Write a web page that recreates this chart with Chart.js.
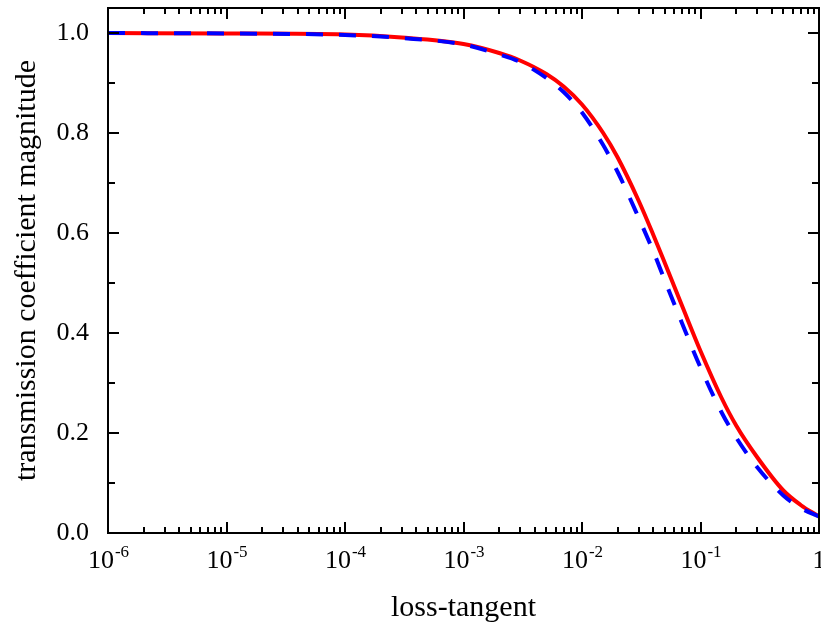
<!DOCTYPE html>
<html>
<head>
<meta charset="utf-8">
<script src="https://cdn.jsdelivr.net/npm/chart.js@4.4.1/dist/chart.umd.min.js"></script>
<style>
  html, body { margin: 0; padding: 0; background: #fff; }
  #wrap { width: 821px; height: 630px; }
</style>
</head>
<body>
<div id="wrap"><canvas id="transChart" width="821" height="630"></canvas></div>
<script>
// loss-tangent sample points (x axis, log scale)
const lossTangent = [1e-6, 1e-5, 1e-4, 3e-4, 1e-3, 2e-3, 3e-3, 5e-3, 7e-3, 1e-2, 1.5e-2, 2e-2, 3e-2, 4e-2, 5e-2, 7e-2, 0.1, 0.15, 0.2, 0.3, 0.5, 0.7, 1];
// solid red curve
const redMag = [1.0, 0.999, 0.997, 0.991, 0.978, 0.960, 0.945, 0.918, 0.893, 0.857, 0.801, 0.751, 0.665, 0.596, 0.540, 0.454, 0.364, 0.271, 0.215, 0.152, 0.085, 0.056, 0.033];
// dashed blue curve
const blueMag = [1.0, 0.999, 0.996, 0.990, 0.977, 0.957, 0.942, 0.910, 0.882, 0.841, 0.777, 0.722, 0.631, 0.563, 0.505, 0.419, 0.331, 0.242, 0.191, 0.132, 0.075, 0.050, 0.033];

// tick labels
const xTickExp = [-6, -5, -4, -3, -2, -1, 0];
const yTicks = [0, 0.1, 0.2, 0.3, 0.4, 0.5, 0.6, 0.7, 0.8, 0.9, 1.0];
const yLabels = ['0.0', '', '0.2', '', '0.4', '', '0.6', '', '0.8', '', '1.0'];

const serif = '"Liberation Serif", "Times New Roman", serif';

function toPoints(ys) {
    return lossTangent.map((x, i) => ({ x: x, y: ys[i] }));
}

// frame, inward ticks on all sides, and 10^n labels
const framePlugin = {
    id: 'frame',
    afterDraw(chart) {
        const ctx = chart.ctx;
        const area = chart.chartArea;
        const xs = chart.scales.x;
        const ys = chart.scales.y;
        ctx.save();
        ctx.strokeStyle = '#000';
        ctx.lineWidth = 2;
        ctx.strokeRect(area.left, area.top, area.right - area.left, area.bottom - area.top);

        ctx.beginPath();
        // x ticks: majors at decades, minors at 2..9
        for (let e = -6; e <= 0; e++) {
            for (let m = 1; m <= 9; m++) {
                const v = m * Math.pow(10, e);
                if (v > 1.0001) break;
                const px = Math.round(xs.getPixelForValue(v));
                const len = m === 1 ? 11 : 6;
                ctx.moveTo(px, area.bottom);
                ctx.lineTo(px, area.bottom - len);
                ctx.moveTo(px, area.top);
                ctx.lineTo(px, area.top + len);
            }
        }
        // y ticks
        yTicks.forEach((v, i) => {
            const py = Math.round(ys.getPixelForValue(v));
            const len = yLabels[i] ? 11 : 7;
            ctx.moveTo(area.left, py);
            ctx.lineTo(area.left + len, py);
            ctx.moveTo(area.right, py);
            ctx.lineTo(area.right - len, py);
        });
        ctx.stroke();

        // x tick labels with superscript exponent
        ctx.fillStyle = '#000';
        ctx.textBaseline = 'alphabetic';
        ctx.textAlign = 'left';
        const baseFont = '26px ' + serif;
        const supFont = '17px ' + serif;
        xTickExp.forEach(e => {
            const px = xs.getPixelForValue(Math.pow(10, e));
            if (e === 0) {
                ctx.font = baseFont;
                const w = ctx.measureText('1').width;
                ctx.fillText('1', px - w / 2, 568);
                return;
            }
            ctx.font = baseFont;
            const wBase = ctx.measureText('10').width;
            ctx.font = supFont;
            const sup = String(e);
            const wSup = ctx.measureText(sup).width;
            const x0 = px - (wBase + wSup) / 2;
            ctx.font = baseFont;
            ctx.fillText('10', x0, 568);
            ctx.font = supFont;
            ctx.fillText(sup, x0 + wBase + 1, 557);
        });
        ctx.restore();
    }
};

new Chart(document.getElementById('transChart').getContext('2d'), {
    type: 'line',
    data: {
        datasets: [
            {
                label: 'dashed',
                data: toPoints(blueMag),
                borderColor: '#0000ff',
                borderWidth: 4,
                borderDash: [17, 16],
                borderCapStyle: 'butt',
                pointRadius: 0,
                cubicInterpolationMode: 'monotone',
                fill: false
            },
            {
                label: 'solid',
                data: toPoints(redMag),
                borderColor: '#ff0000',
                borderWidth: 4,
                pointRadius: 0,
                cubicInterpolationMode: 'monotone',
                fill: false
            }
        ]
    },
    options: {
        responsive: false,
        animation: false,
        devicePixelRatio: 1,
        layout: { padding: { top: 8, right: 2, left: 0, bottom: 0 } },
        plugins: {
            legend: { display: false },
            tooltip: { enabled: false }
        },
        scales: {
            x: {
                type: 'logarithmic',
                min: 1e-6,
                max: 1,
                grid: { display: false },
                border: { display: false },
                ticks: { display: false },
                afterFit(scale) {
                    scale.height = 97;
                    scale.paddingLeft = 0;
                    scale.paddingRight = 0;
                },
                title: {
                    display: true,
                    text: 'loss-tangent',
                    color: '#000',
                    font: { family: serif, size: 30 },
                    padding: { top: 0, bottom: 4 }
                }
            },
            y: {
                min: 0,
                max: 1.05,
                grid: { display: false },
                border: { display: false },
                afterBuildTicks(scale) {
                    scale.ticks = yTicks.map(v => ({ value: v }));
                },
                afterFit(scale) {
                    scale.width = 108;
                    scale.paddingTop = 0;
                    scale.paddingBottom = 0;
                },
                ticks: {
                    color: '#000',
                    padding: 11,
                    font: { family: serif, size: 26 },
                    callback: (value, index) => yLabels[index]
                },
                title: {
                    display: true,
                    text: 'transmission coefficient magnitude',
                    color: '#000',
                    font: { family: serif, size: 30 },
                    padding: { top: 9, bottom: 0 }
                }
            }
        }
    },
    plugins: [framePlugin]
});
</script>
</body>
</html>
